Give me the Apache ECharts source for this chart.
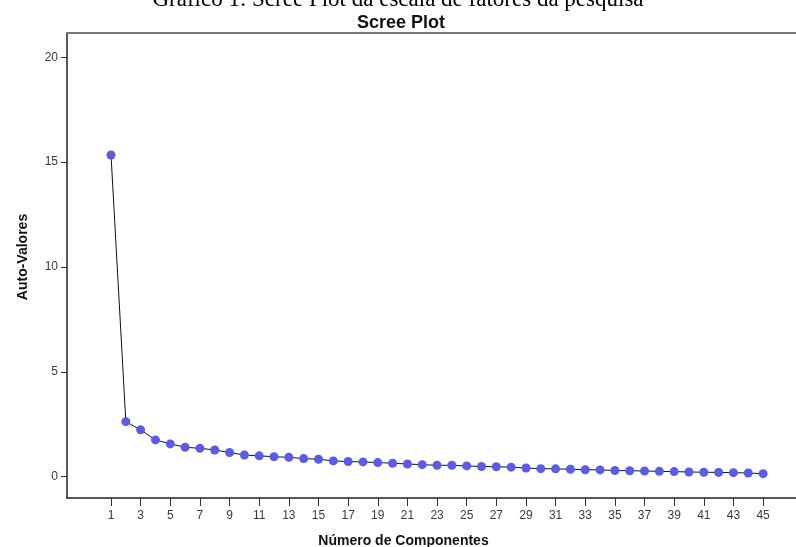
<!DOCTYPE html>
<html>
<head>
<meta charset="utf-8">
<script src="https://cdn.jsdelivr.net/npm/echarts@6/dist/echarts.min.js"></script>
<style>
  html, body { margin: 0; padding: 0; background: #fff; }
  #chart { width: 796px; height: 547px; }
</style>
</head>
<body>
<div id="chart"></div>
<script>
// componentes (eixo x)
var components = [1, 2, 3, 4, 5, 6, 7, 8, 9, 10, 11, 12, 13, 14, 15, 16, 17, 18, 19, 20,
  21, 22, 23, 24, 25, 26, 27, 28, 29, 30, 31, 32, 33, 34, 35, 36, 37, 38, 39, 40,
  41, 42, 43, 44, 45];
// auto-valores
var eigenvalues = [15.34, 2.62, 2.23, 1.75, 1.56, 1.40, 1.35, 1.27, 1.15, 1.03,
  0.99, 0.95, 0.92, 0.86, 0.83, 0.75, 0.72, 0.70, 0.67, 0.64,
  0.60, 0.57, 0.54, 0.54, 0.51, 0.48, 0.47, 0.45, 0.41, 0.38,
  0.37, 0.35, 0.33, 0.32, 0.29, 0.28, 0.27, 0.25, 0.24, 0.22,
  0.21, 0.20, 0.19, 0.17, 0.14];
var xTicks = [1, 3, 5, 7, 9, 11, 13, 15, 17, 19, 21, 23, 25, 27, 29, 31, 33, 35, 37, 39, 41, 43, 45];
var yTicks = [0, 5, 10, 15, 20];

var chart = echarts.init(document.getElementById('chart'));

var labelStyle = {color: '#3a3a3a', fontSize: 12, fontFamily: 'Liberation Sans'};

var option = {
  animation: false,
  title: [{
    text: 'Gráfico 1: Scree Plot da escala de fatores da pesquisa',
    left: 'center',
    top: -17,
    textStyle: {fontFamily: 'Liberation Serif', fontWeight: 'normal', fontSize: 23, color: '#000'}
  }, {
    text: 'Scree Plot',
    left: 352,
    top: 9,
    textStyle: {fontFamily: 'Liberation Sans', fontWeight: 'bold', fontSize: 18, color: '#111'}
  }],
  // quadro fixo, sem ajuste automatico aos rotulos
  grid: {left: 67, right: 0, top: 33, bottom: 49, outerBoundsMode: 'none'},
  xAxis: [{
    type: 'value',
    min: -1.97,
    max: 47.22,
    name: 'Número de Componentes',
    nameLocation: 'middle',
    nameGap: 36,
    nameTextStyle: {fontFamily: 'Liberation Sans', fontWeight: 'bold', fontSize: 14, color: '#111', padding: [0, 56, 0, 0]},
    axisLine: {show: true, onZero: false, lineStyle: {color: '#222', width: 1.5}},
    axisTick: {show: true, length: 8, customValues: xTicks, lineStyle: {color: '#333'}},
    axisLabel: {customValues: xTicks, margin: 12, ...labelStyle},
    splitLine: {show: false}
  }, {
    // borda superior do quadro
    type: 'value',
    position: 'top',
    min: -1.97,
    max: 47.22,
    axisLine: {show: true, onZero: false, lineStyle: {color: '#777', width: 2}},
    axisTick: {show: false},
    axisLabel: {show: false},
    splitLine: {show: false}
  }],
  yAxis: {
    type: 'value',
    min: -1.02,
    max: 21.16,
    name: 'Auto-Valores',
    nameLocation: 'middle',
    nameGap: 37,
    nameTextStyle: {fontFamily: 'Liberation Sans', fontWeight: 'bold', fontSize: 14, color: '#111', padding: [0, 0, 0, 17]},
    axisLine: {show: true, onZero: false, lineStyle: {color: '#222', width: 1.5}},
    axisTick: {show: true, length: 6, customValues: yTicks, lineStyle: {color: '#333'}},
    axisLabel: {customValues: yTicks, margin: 9, ...labelStyle},
    splitLine: {show: false}
  },
  series: [{
    type: 'line',
    xAxisIndex: 0,
    data: components.map(function (c, i) { return [c, eigenvalues[i]]; }),
    symbol: 'circle',
    symbolSize: 9,
    lineStyle: {color: '#111', width: 1},
    itemStyle: {color: '#5b5be6'}
  }]
};

chart.setOption(option);
</script>
</body>
</html>
